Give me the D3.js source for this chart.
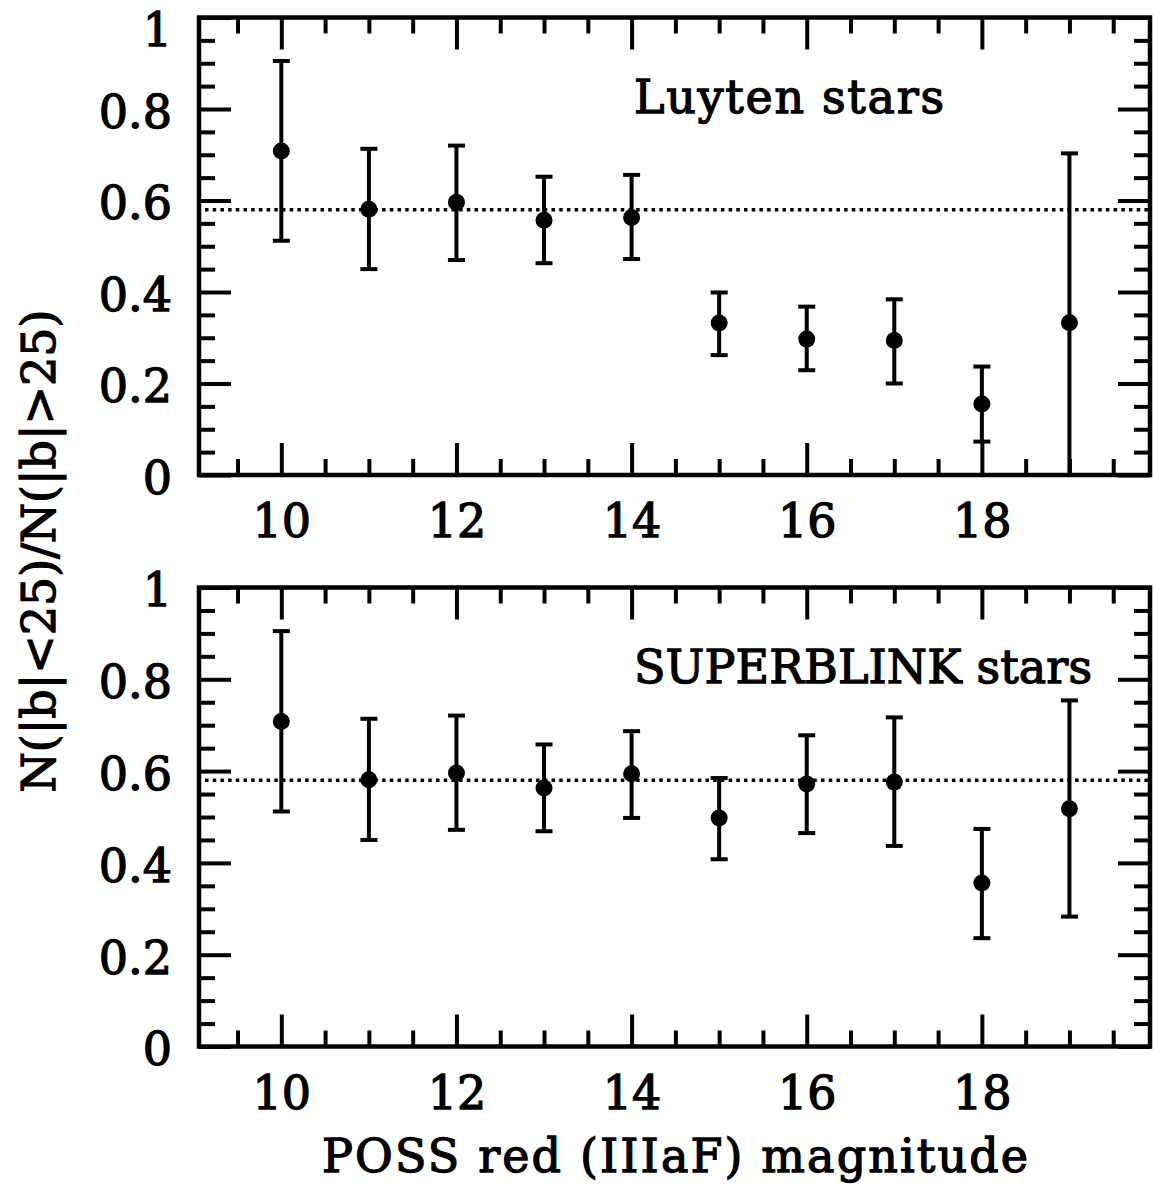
<!DOCTYPE html>
<html>
<head>
<meta charset="UTF-8">
<title>N(|b|&lt;25)/N(|b|&gt;25) vs POSS red magnitude</title>
<script src="https://cdn.jsdelivr.net/npm/d3@7/dist/d3.min.js"></script>
<style>
    body { margin: 0; background: #fff; }
    svg text { font-family: "DejaVu Serif", serif; fill: #000; stroke: #000; stroke-width: 1.3px; }
</style>
</head>
<body>
<svg id="chart" width="1153" height="1185"></svg>
<script>

// magnitude bins (POSS red)
var mags = [10, 11, 12, 13, 14, 15, 16, 17, 18, 19];

// Luyten stars: ratio and error bar ends
var luytenRatio = [0.708, 0.581, 0.596, 0.557, 0.563, 0.332, 0.297, 0.294, 0.155, 0.333];
var luytenHigh  = [0.905, 0.713, 0.720, 0.652, 0.656, 0.399, 0.368, 0.384, 0.237, 0.703];
var luytenLow   = [0.512, 0.450, 0.470, 0.463, 0.472, 0.262, 0.229, 0.200, 0.073, 0.000];

// SUPERBLINK stars: ratio and error bar ends
var superRatio = [0.708, 0.581, 0.596, 0.563, 0.594, 0.498, 0.572, 0.576, 0.356, 0.518];
var superHigh  = [0.905, 0.714, 0.721, 0.658, 0.687, 0.585, 0.678, 0.717, 0.474, 0.754];
var superLow   = [0.512, 0.450, 0.472, 0.469, 0.498, 0.408, 0.465, 0.437, 0.236, 0.283];

// reference level (dotted line)
var refLevel = 0.58;

// ticks
var xMajor = [10, 12, 14, 16, 18];
var xMinor = d3.range(9.5, 20, 0.5).filter(function(v) { return v % 2 !== 0; });
var yMajor = [0, 0.2, 0.4, 0.6, 0.8, 1];
var yMinor = d3.range(0.05, 1, 0.05).filter(function(v) { return Math.abs(v * 5 - Math.round(v * 5)) > 1e-6; });

var panelNames = ["Luyten stars", "SUPERBLINK stars"];

var left = 199, right = 1150;
var fontSize = 46;
var lw = 4;
var svg = d3.select("#chart");

var x = d3.scaleLinear().domain([9.06, 19.92]).range([left, right]);

function yFmt(d) { return d === 0 ? "0" : d === 1 ? "1" : d3.format(".1f")(d); }

// draw one panel
function drawPanel(top, bottom, name, nameLen, ratio, high, low) {
    var y = d3.scaleLinear().domain([0, 1]).range([bottom, top]);
    var g = svg.append("g");

    // ticks on all four sides, pointing inward
    function ticks(axisFn, scale, vals, size, tx, ty, labels) {
        var a = axisFn(scale).tickValues(vals).tickSize(-size).tickPadding(0);
        if (!labels) a.tickFormat("");
        var ag = g.append("g").attr("transform", "translate(" + tx + "," + ty + ")").call(a);
        ag.select(".domain").remove();
        ag.selectAll("line").attr("stroke", "#000").attr("stroke-width", lw);
        return ag;
    }

    var xb = ticks(d3.axisBottom, x, xMajor, 32, 0, bottom, true);
    ticks(d3.axisBottom, x, xMinor, 16, 0, bottom, false);
    ticks(d3.axisTop, x, xMajor, 32, 0, top, false);
    ticks(d3.axisTop, x, xMinor, 16, 0, top, false);
    var yl = ticks(d3.axisLeft, y, yMajor, 32, left, 0, true);
    ticks(d3.axisLeft, y, yMinor, 16, left, 0, false);
    ticks(d3.axisRight, y, yMajor, 32, right, 0, false);
    ticks(d3.axisRight, y, yMinor, 16, right, 0, false);

    xb.selectAll("text")
        .attr("y", 62).attr("dy", null)
        .attr("font-size", fontSize).attr("font-family", "DejaVu Serif")
        .attr("text-anchor", "middle");
    yl.selectAll("text")
        .text(yFmt)
        .attr("x", -27)
        // keep the top label of the upper panel inside the page
        .attr("dy", function(d) { return (d === 1 && top < 40) ? "0.6em" : "0.4em"; })
        .attr("font-size", fontSize).attr("font-family", "DejaVu Serif")
        .attr("text-anchor", "end");

    // frame
    g.append("rect")
        .attr("x", left).attr("y", top)
        .attr("width", right - left).attr("height", bottom - top)
        .attr("fill", "none").attr("stroke", "#000").attr("stroke-width", 4.5);

    // dotted reference line
    g.append("line")
        .attr("x1", left + 6).attr("x2", right)
        .attr("y1", y(refLevel)).attr("y2", y(refLevel))
        .attr("stroke", "#000").attr("stroke-width", 3.5)
        .attr("stroke-dasharray", "3.5,4.2");

    // error bars
    var bars = g.selectAll(".err").data(mags).enter().append("g").attr("class", "err");
    bars.append("line")
        .attr("x1", function(d) { return x(d); }).attr("x2", function(d) { return x(d); })
        .attr("y1", function(d, i) { return y(high[i]); })
        .attr("y2", function(d, i) { return y(low[i]); })
        .attr("stroke", "#000").attr("stroke-width", lw);
    bars.append("line")
        .attr("x1", function(d) { return x(d) - 8.5; }).attr("x2", function(d) { return x(d) + 8.5; })
        .attr("y1", function(d, i) { return y(high[i]); })
        .attr("y2", function(d, i) { return y(high[i]); })
        .attr("stroke", "#000").attr("stroke-width", lw);
    bars.append("line")
        .attr("x1", function(d) { return x(d) - 8.5; }).attr("x2", function(d) { return x(d) + 8.5; })
        .attr("y1", function(d, i) { return y(low[i]); })
        .attr("y2", function(d, i) { return y(low[i]); })
        .attr("stroke", "#000").attr("stroke-width", lw);

    // points
    g.selectAll(".pt").data(mags).enter().append("circle")
        .attr("class", "pt")
        .attr("cx", function(d) { return x(d); })
        .attr("cy", function(d, i) { return y(ratio[i]); })
        .attr("r", 8.5)
        .attr("fill", "#000");

    // panel name
    g.append("text")
        .attr("x", 634).attr("y", top + 95)
        .attr("font-size", fontSize)
        .attr("textLength", nameLen).attr("lengthAdjust", "spacing")
        .text(name);
}

drawPanel(17.5, 475, panelNames[0], 310, luytenRatio, luytenHigh, luytenLow);
drawPanel(587.5, 1046.5, panelNames[1], 458, superRatio, superHigh, superLow);

// axis titles
svg.append("text")
    .attr("x", 675).attr("y", 1172)
    .attr("text-anchor", "middle")
    .attr("font-size", fontSize)
    .attr("textLength", 706).attr("lengthAdjust", "spacing")
    .text("POSS red (IIIaF) magnitude");

svg.append("text")
    .attr("transform", "translate(55,551) rotate(-90)")
    .attr("text-anchor", "middle")
    .attr("font-size", fontSize)
    .attr("textLength", 483).attr("lengthAdjust", "spacing")
    .text("N(|b|<25)/N(|b|>25)");

</script>
</body>
</html>
